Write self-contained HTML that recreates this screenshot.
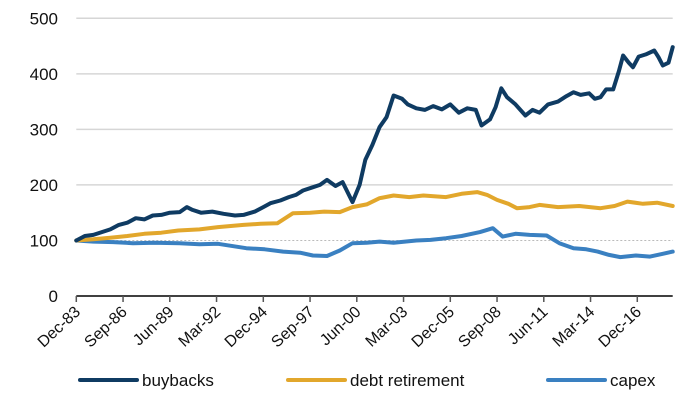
<!DOCTYPE html>
<html><head><meta charset="utf-8"><style>
body{margin:0;background:#fff;}
svg{display:block;font-family:"Liberation Sans",Arial,sans-serif;}
</style></head><body>
<svg id="chart" width="700" height="407" viewBox="0 0 700 407" xmlns="http://www.w3.org/2000/svg">
<g id="grid"></g>
<g id="yaxis"></g>
<g id="series"></g>
<g id="xaxis"></g>
<g id="legend"></g>
</svg>
<script>
// months since Dec-83
const bbMonths=[0,6,12,18,24,30,36,42,48,54,60,66,73,78,82,88,96,104,112,118,126,132,137,144,150,155,160,166,172,177,183,188,195,200,204,209,214,219,224,230,234,240,246,252,258,264,270,276,282,286,292,296,300,304,310,317,322,327,333,340,346,351,356,362,366,370,374,379,383,386,390,393,397,402,408,411,414,418,421];
const bbValues=[100,108,110,115,120,128,132,140,138,145,146,150,151,160,155,150,152,148,145,146,152,160,167,172,178,182,190,195,200,209,198,205,169,200,245,272,304,322,361,355,345,338,335,342,336,345,330,338,335,307,318,340,374,358,345,325,335,330,345,350,360,367,362,365,355,358,372,372,405,433,420,412,431,435,442,430,415,420,448];
const drMonths=[0,12,24,36,48,60,72,87,100,118,130,142,153,165,175,186,195,205,214,224,235,245,261,272,283,290,297,305,311,320,327,340,355,370,380,389,400,410,421];
const drValues=[100,102,105,108,112,114,118,120,124,128,130,131,149,150,152,151,160,165,176,181,178,181,178,184,187,182,173,166,158,160,164,160,162,158,162,170,166,168,162];
const cxMonths=[0,12,26,40,55,73,87,100,120,133,146,158,167,177,186,195,205,214,224,240,250,261,272,285,294,301,310,320,332,341,351,360,368,376,384,395,405,414,421];
const cxValues=[100,98,97,95,96,95,93,94,86,84,80,78,73,72,82,95,96,98,96,100,101,104,108,115,122,107,112,110,109,95,86,84,80,74,70,73,71,76,80];
const yTicks=[0,100,200,300,400,500];
const xTickLabels=["Dec-83","Sep-86","Jun-89","Mar-92","Dec-94","Sep-97","Jun-00","Mar-03","Dec-05","Sep-08","Jun-11","Mar-14","Dec-16"];
const xTickMonths=[0,33,66,99,132,165,198,231,264,297,330,363,396];
const seriesNames=["buybacks","debt retirement","capex"];
const seriesColors=["#0f3b62","#e2a72c","#3a80c1"];

const NS="http://www.w3.org/2000/svg";
const X0=76.3,X1=672.7,MMAX=421,Y0=296,Y500=18.3;
const xs=m=>X0+(X1-X0)*m/MMAX;
const ys=v=>Y0-(Y0-Y500)*v/500;
function mk(tag,attrs,parent){const e=document.createElementNS(NS,tag);for(const k in attrs)e.setAttribute(k,attrs[k]);parent.appendChild(e);return e;}
const grid=document.getElementById('grid'),yaxis=document.getElementById('yaxis'),series=document.getElementById('series'),xaxis=document.getElementById('xaxis'),legend=document.getElementById('legend');
yTicks.forEach(v=>{
  if(v>0){const l=mk('line',{x1:X0,x2:X1,y1:ys(v),y2:ys(v),stroke:v===100?'#bbb':'#d6d6d6','stroke-width':v===100?1:1.5,'stroke-dasharray':v===100?'2,2':'none'},grid);
  
  }
  const t=mk('text',{x:58,y:ys(v)+6,'text-anchor':'end','font-size':17,fill:'#111'},yaxis);t.textContent=v;
  
  
});
function drawLine(months,vals,color,name){
  const d=months.map((m,i)=>(i?'L':'M')+xs(m).toFixed(1)+','+ys(vals[i]).toFixed(1)).join('');
  const p=mk('path',{d:d,fill:'none',stroke:color,'stroke-width':4,'stroke-linejoin':'round','stroke-linecap':'round'},series);
  
  
}
drawLine(cxMonths,cxValues,seriesColors[2],'capex');
drawLine(drMonths,drValues,seriesColors[1],'debt-retirement');
drawLine(bbMonths,bbValues,seriesColors[0],'buybacks');
const ax=mk('line',{x1:X0,x2:X1,y1:Y0,y2:Y0,stroke:'#000','stroke-width':1.5},xaxis);


xTickMonths.forEach((m,i)=>{
  const x=xs(m);
  const tk=mk('line',{x1:x,x2:x,y1:Y0,y2:Y0+6,stroke:'#555','stroke-width':1.5},xaxis);
  
  
  const t=mk('text',{x:x+5,y:Y0+17,'text-anchor':'end','font-size':16,fill:'#111',transform:'rotate(-43 '+(x+5)+' '+(Y0+17)+')'},xaxis);
  t.textContent=xTickLabels[i];
  
  
});
const lx=[80,288,548];
seriesNames.forEach((n,i)=>{
  const g=mk('g',{},legend);
  
  
  mk('line',{x1:lx[i],x2:lx[i]+57,y1:380,y2:380,stroke:seriesColors[i],'stroke-width':4,'stroke-linecap':'round'},g);
  const t=mk('text',{x:lx[i]+62,y:386,'font-size':17,fill:'#111'},g);t.textContent=n;
});
</script>
</body></html>
